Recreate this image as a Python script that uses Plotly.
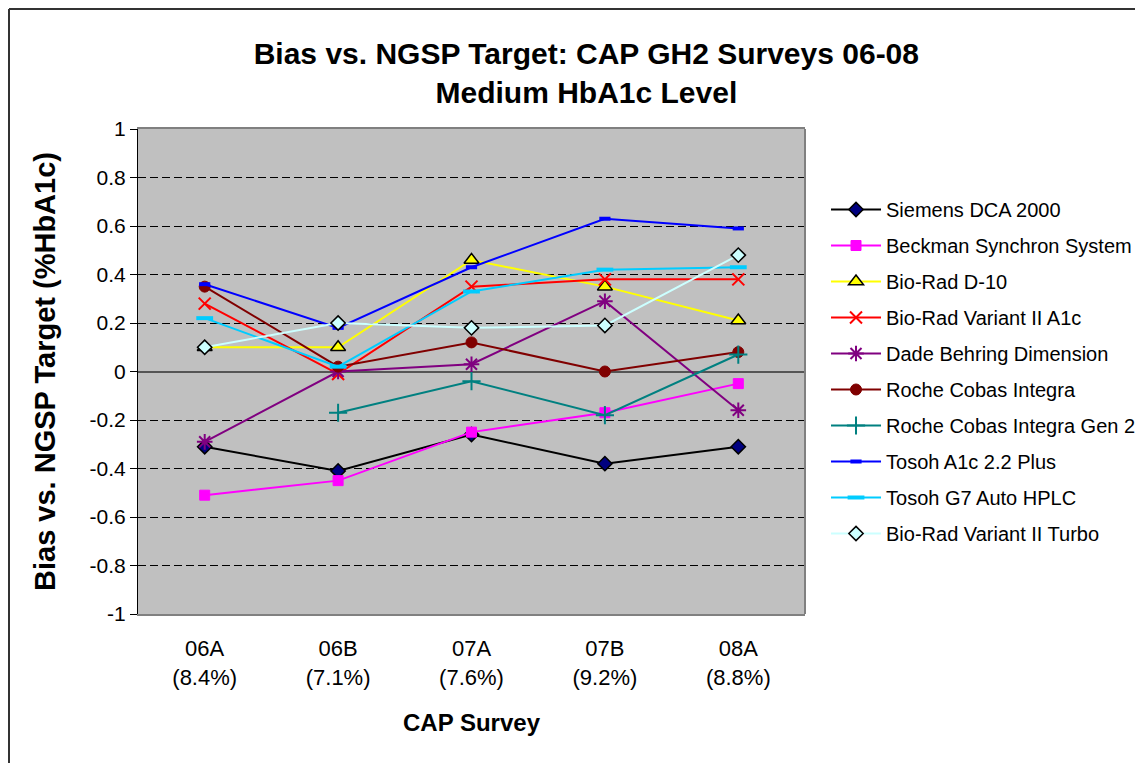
import plotly.graph_objects as go

categories = ["06A", "06B", "07A", "07B", "08A"]
category_labels = ["06A<br>(8.4%)", "06B<br>(7.1%)", "07A<br>(7.6%)", "07B<br>(9.2%)", "08A<br>(8.8%)"]

siemens_dca_2000 = [-0.31, -0.41, -0.26, -0.38, -0.31]
beckman_synchron = [-0.51, -0.45, -0.25, -0.17, -0.05]
biorad_d10 = [0.10, 0.10, 0.46, 0.35, 0.21]
biorad_variant_ii_a1c = [0.28, -0.01, 0.35, 0.38, 0.38]
dade_behring = [-0.29, 0.00, 0.03, 0.29, -0.16]
roche_cobas_integra = [0.35, 0.02, 0.12, 0.00, 0.08]
roche_cobas_integra_gen2 = [None, -0.17, -0.04, -0.18, 0.07]
tosoh_a1c_22_plus = [0.36, 0.18, 0.43, 0.63, 0.59]
tosoh_g7 = [0.22, 0.02, 0.33, 0.42, 0.43]
biorad_variant_ii_turbo = [0.10, 0.20, 0.18, 0.19, 0.48]

y_ticks = [1, 0.8, 0.6, 0.4, 0.2, 0, -0.2, -0.4, -0.6, -0.8, -1]
y_tick_labels = ["1", "0.8", "0.6", "0.4", "0.2", "0", "-0.2", "-0.4", "-0.6", "-0.8", "-1"]

series = [
    ("Siemens DCA 2000", siemens_dca_2000, "#000000",
     dict(symbol="diamond", size=11, color="#000080", line=dict(color="#000000", width=1.5))),
    ("Beckman Synchron System", beckman_synchron, "#FF00FF",
     dict(symbol="square", size=10, color="#FF00FF", line=dict(color="#FF00FF", width=1))),
    ("Bio-Rad D-10", biorad_d10, "#FFFF00",
     dict(symbol="triangle-up", size=13, color="#FFFF00", line=dict(color="#000000", width=1.5))),
    ("Bio-Rad Variant II A1c", biorad_variant_ii_a1c, "#FF0000",
     dict(symbol="x-thin", size=12, color="#FF0000", line=dict(color="#FF0000", width=2))),
    ("Dade Behring Dimension", dade_behring, "#800080",
     dict(symbol="asterisk", size=13, color="#800080", line=dict(color="#800080", width=2))),
    ("Roche Cobas Integra", roche_cobas_integra, "#800000",
     dict(symbol="circle", size=11, color="#800000", line=dict(color="#800000", width=1))),
    ("Roche Cobas Integra Gen 2", roche_cobas_integra_gen2, "#008080",
     dict(symbol="cross-thin", size=13, color="#008080", line=dict(color="#008080", width=2))),
    ("Tosoh A1c 2.2 Plus", tosoh_a1c_22_plus, "#0000FF",
     dict(symbol="line-ew", size=8, color="#0000FF", line=dict(color="#0000FF", width=4))),
    ("Tosoh G7 Auto HPLC", tosoh_g7, "#00CCFF",
     dict(symbol="line-ew", size=12, color="#00CCFF", line=dict(color="#00CCFF", width=4))),
    ("Bio-Rad Variant II Turbo", biorad_variant_ii_turbo, "#CCFFFF",
     dict(symbol="diamond", size=11, color="#CCFFFF", line=dict(color="#000000", width=1.5))),
]

fig = go.Figure()
for i, (name, vals, color, marker) in enumerate(series):
    fig.add_trace(go.Scatter(
        x=categories, y=vals, name=name, mode="lines+markers",
        line=dict(color=color, width=2), marker=marker,
        legendgroup=f"g{i}", connectgaps=False,
    ))

font_family = "Liberation Sans, Arial, sans-serif"

fig.update_layout(
    width=1143, height=763,
    margin=dict(l=130, r=346, t=121, b=157, autoexpand=False),
    paper_bgcolor="white", plot_bgcolor="#C0C0C0",
    font=dict(family=font_family, color="black"),
    title=dict(
        text="<b>Bias vs. NGSP Target: CAP GH2 Surveys 06-08<br>Medium HbA1c Level</b>",
        font=dict(size=30, family=font_family, color="black"),
        x=0.506, xanchor="center", xref="container",
        y=0.926, yanchor="top", yref="container",
    ),
    showlegend=True,
    legend=dict(
        x=1.0315, xanchor="left", y=0.5, yanchor="middle",
        font=dict(size=20, family=font_family, color="black"),
        itemwidth=50, tracegroupgap=7, bgcolor="rgba(0,0,0,0)",
        traceorder="grouped",
    ),
    xaxis=dict(
        type="category", categoryorder="array", categoryarray=categories,
        tickvals=categories, ticktext=category_labels,
        range=[-0.5, 4.5], showgrid=False, zeroline=False,
        showline=True, mirror=True, linecolor="#808080", linewidth=2,
        ticks="", tickfont=dict(size=22, family=font_family, color="black"),
        ticklabelstandoff=14,
        title=dict(text="<b>CAP Survey</b>", font=dict(size=24, family=font_family, color="black"),
                   standoff=25),
    ),
    yaxis=dict(
        range=[-1, 1], tickvals=y_ticks, ticktext=y_tick_labels,
        showgrid=True, gridcolor="#000000", gridwidth=1, griddash="8px,4px",
        zeroline=True, zerolinecolor="#555555", zerolinewidth=1.5,
        showline=True, linecolor="#000000", linewidth=1,
        ticks="outside", ticklen=7, tickcolor="#000000",
        tickfont=dict(size=21, family=font_family, color="black"),
        title=dict(text="<b>Bias vs. NGSP Target (%HbA1c)</b>",
                   font=dict(size=29, family=font_family, color="black"), standoff=25),
    ),
    shapes=[
        dict(type="line", xref="paper", yref="paper", x0=1, x1=1, y0=0, y1=1,
             line=dict(color="#808080", width=2)),
        dict(type="line", xref="paper", yref="paper", x0=-0.1934, x1=1.8, y0=1.2474, y1=1.2474,
             line=dict(color="#333333", width=2)),
        dict(type="line", xref="paper", yref="paper", x0=-0.1934, x1=-0.1934, y0=1.2474, y1=-0.5,
             line=dict(color="#333333", width=2)),
    ],
)

fig.write_html("out.html")
